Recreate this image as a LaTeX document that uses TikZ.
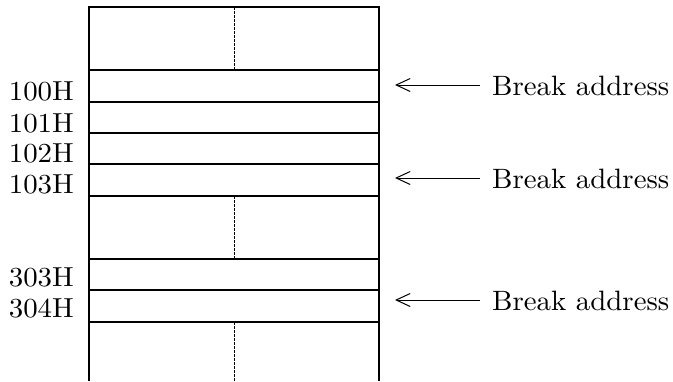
\documentclass[tikz,border=0pt]{standalone}
\usepackage{fontspec}
\newfontfamily\addrfont{lmroman10-regular.otf}[FakeStretch=1.05]
\newfontfamily\brkfont{lmroman10-regular.otf}[FakeStretch=1.03]
\usetikzlibrary{arrows.meta}
\begin{document}
\begin{tikzpicture}[x=1pt,y=-1pt,
  boxline/.style={line width=1.1pt},
  cell/.style={draw, boxline, minimum width=290pt, inner sep=0pt, outer sep=0pt, anchor=north west},
  midline/.style={line width=0.9pt, dash pattern=on 2.5pt off 1.5pt},
  lbl/.style={anchor=base east, inner sep=0pt, font=\addrfont\fontsize{27.5}{32}\selectfont},
  brk/.style={anchor=base west, inner sep=0pt, font=\brkfont\fontsize{28}{32}\selectfont},
  arr/.style={line width=1pt, -{Straight Barb[length=14pt,width=13pt]}}]
\useasboundingbox (0,0) rectangle (673,381);
% cells
\node[cell, minimum height=63pt] (top) at (89,7) {};
\node[cell, minimum height=32pt] (r100) at (89,70) {};
\node[cell, minimum height=31pt] (r101) at (89,102) {};
\node[cell, minimum height=31pt] (r102) at (89,133) {};
\node[cell, minimum height=32pt] (r103) at (89,164) {};
\node[cell, minimum height=63pt] (gap) at (89,196) {};
\node[cell, minimum height=31pt] (r303) at (89,259) {};
\node[cell, minimum height=32pt] (r304) at (89,290) {};
\coordinate (bl) at (89,381);
\coordinate (br) at (379,381);
\coordinate (bm) at (234,381);
\draw[boxline] (r304.south west) -- (bl);
\draw[boxline] (r304.south east) -- (br);
% dashed middle lines
\draw[midline] (top.north) -- (top.south);
\draw[midline] (gap.north) -- (gap.south);
\draw[midline] (r304.south) -- (bm);
% address labels
\node[lbl] (l100) at (74,100) {100H};
\node[lbl] (l101) at (74,132) {101H};
\node[lbl] (l102) at (74,162) {102H};
\node[lbl] (l103) at (74,193) {103H};
\node[lbl] (l303) at (74,286) {303H};
\node[lbl] (l304) at (74,317) {304H};
% break address
\node[brk] (b1) at (492,95) {Break address};
\node[brk] (b2) at (492,188) {Break address};
\node[brk] (b3) at (492,310) {Break address};
\coordinate (a1) at (395,85);
\coordinate (a2) at (395,178);
\coordinate (a3) at (395,300);
\draw[arr] ([xshift=-12pt]b1.west |- a1) -- (a1);
\draw[arr] ([xshift=-12pt]b2.west |- a2) -- (a2);
\draw[arr] ([xshift=-12pt]b3.west |- a3) -- (a3);
\end{tikzpicture}
\end{document}
